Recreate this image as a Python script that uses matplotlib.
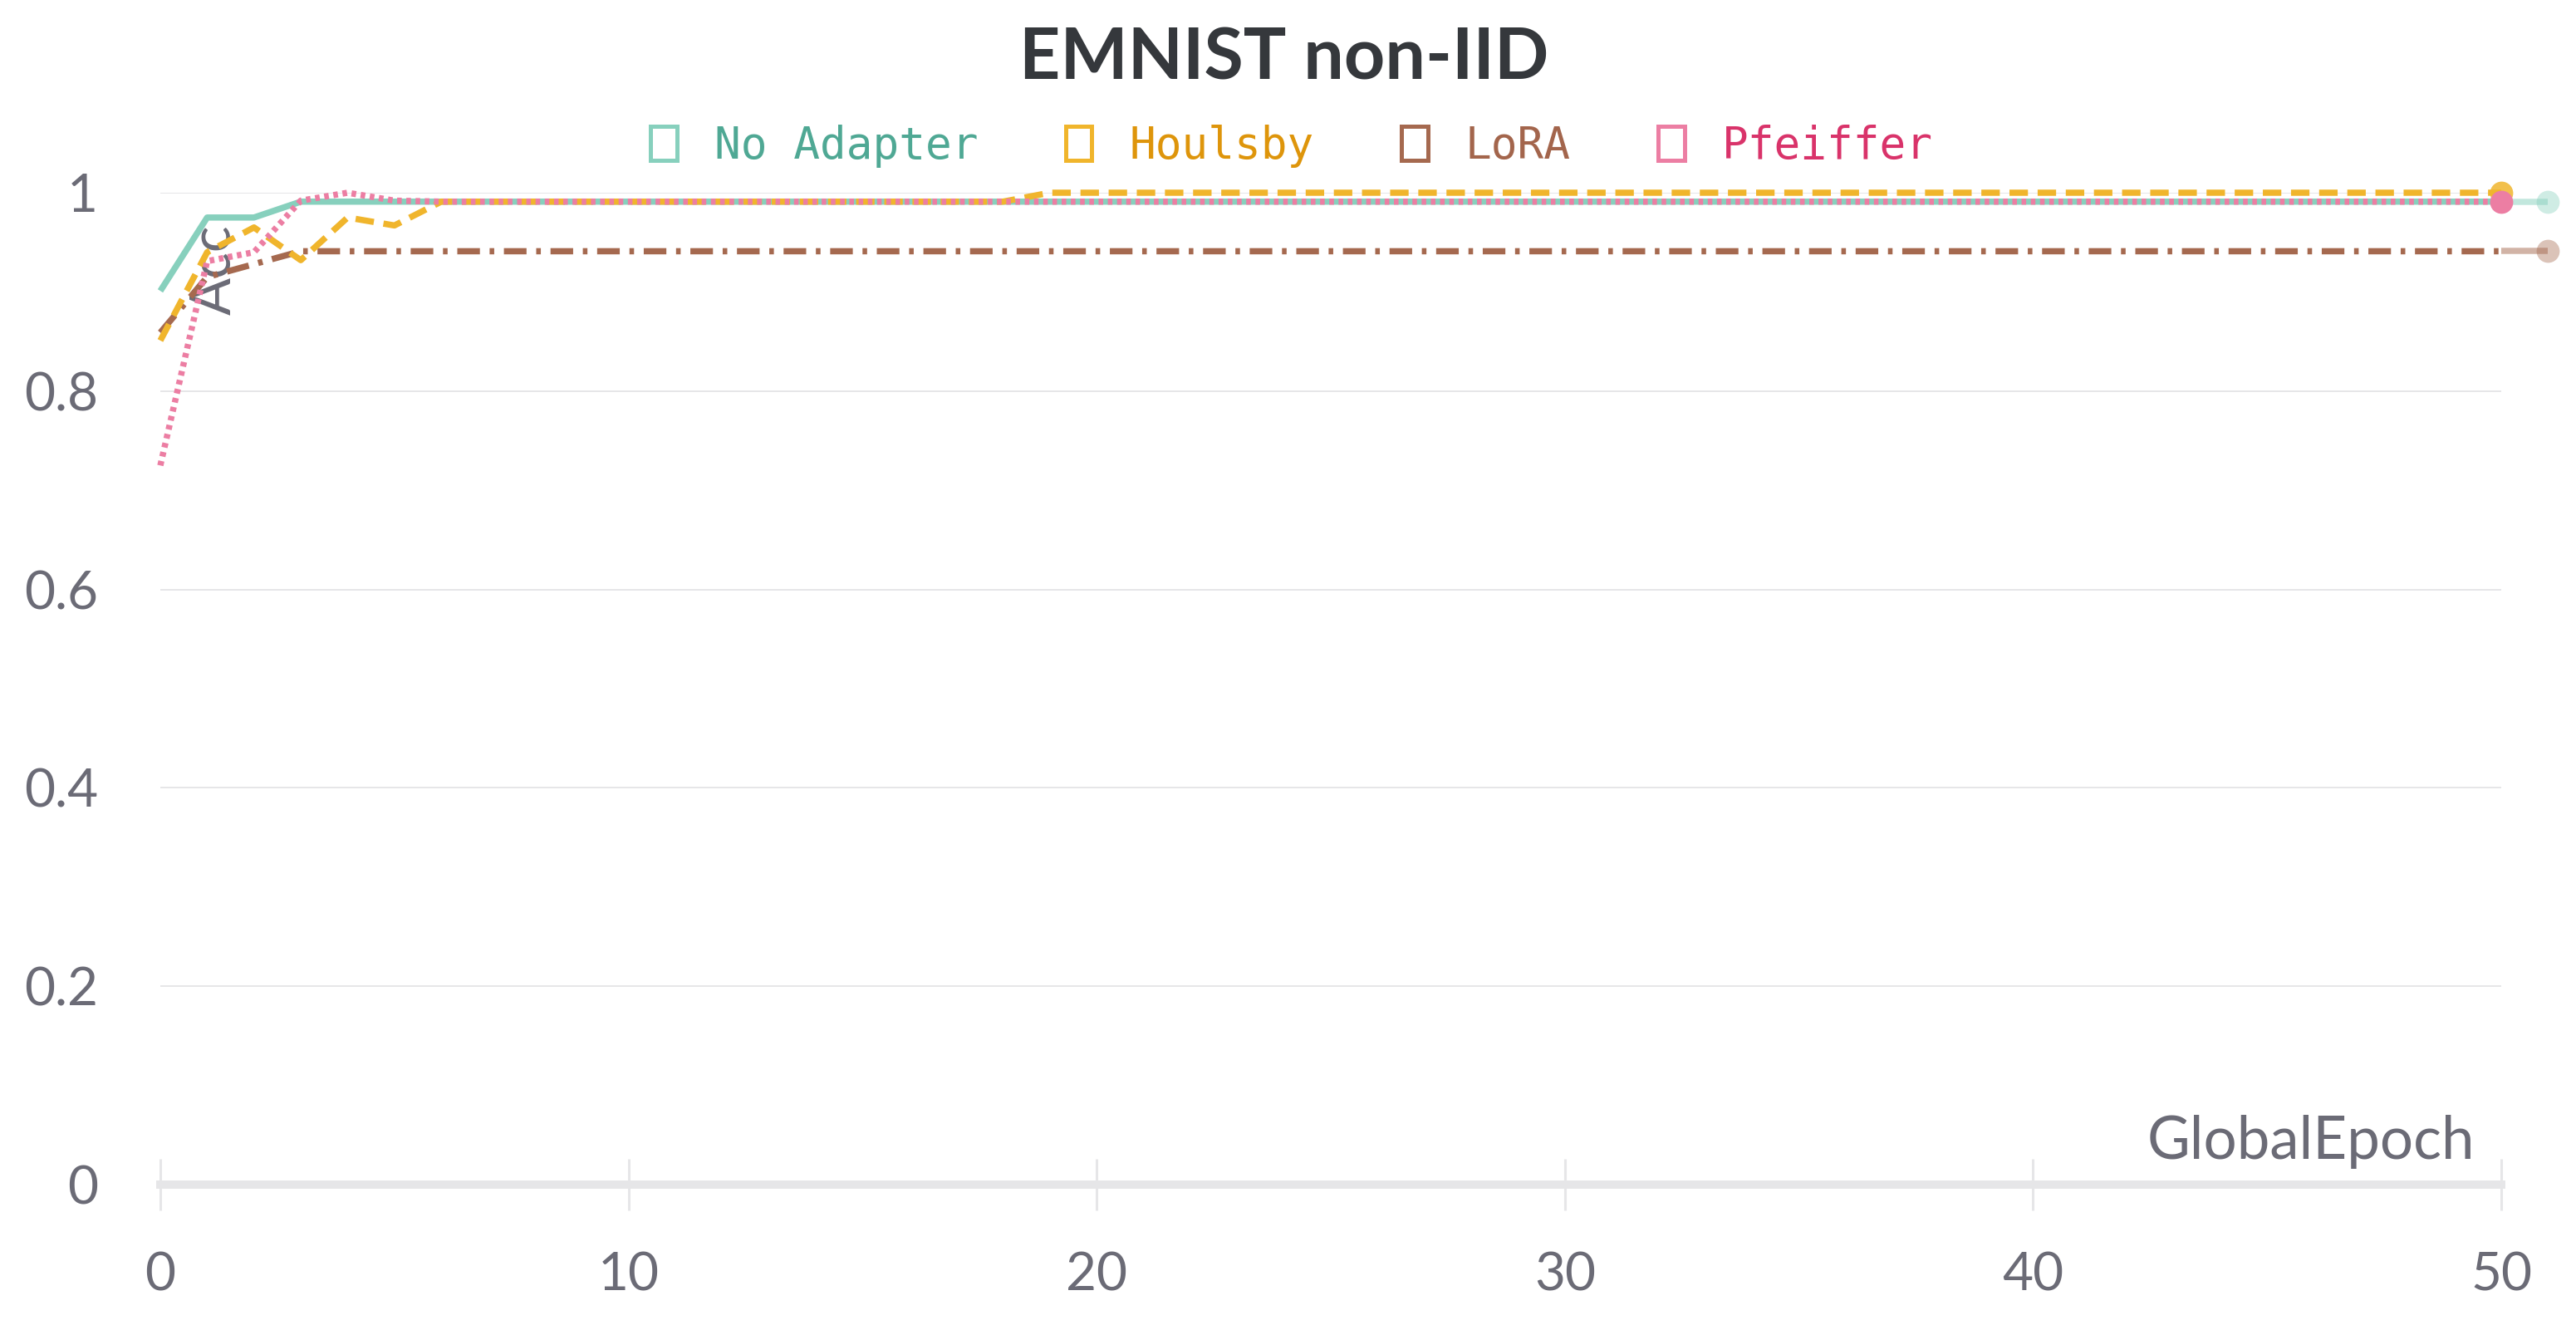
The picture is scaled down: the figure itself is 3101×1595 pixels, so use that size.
import matplotlib
matplotlib.use("Agg")
from matplotlib import pyplot as plt
from matplotlib.patches import Rectangle

# data
epochs = list(range(52))
no_adapter = [0.901, 0.975, 0.975, 0.991, 0.991, 0.991, 0.991, 0.991, 0.991, 0.991,
              0.991, 0.991, 0.991, 0.991, 0.991, 0.991, 0.991, 0.991, 0.991, 0.991,
              0.991, 0.991, 0.991, 0.991, 0.991, 0.991, 0.991, 0.991, 0.991, 0.991,
              0.991, 0.991, 0.991, 0.991, 0.991, 0.991, 0.991, 0.991, 0.991, 0.991,
              0.991, 0.991, 0.991, 0.991, 0.991, 0.991, 0.991, 0.991, 0.991, 0.991,
              0.991, 0.991]
houlsby = [0.851, 0.940, 0.965, 0.932, 0.975, 0.967, 0.991, 0.991, 0.991, 0.991,
           0.991, 0.991, 0.991, 0.991, 0.991, 0.991, 0.991, 0.991, 0.991, 1.000,
           1.000, 1.000, 1.000, 1.000, 1.000, 1.000, 1.000, 1.000, 1.000, 1.000,
           1.000, 1.000, 1.000, 1.000, 1.000, 1.000, 1.000, 1.000, 1.000, 1.000,
           1.000, 1.000, 1.000, 1.000, 1.000, 1.000, 1.000, 1.000, 1.000, 1.000,
           1.000]
lora = [0.859, 0.915, 0.928, 0.941, 0.941, 0.941, 0.941, 0.941, 0.941, 0.941,
        0.941, 0.941, 0.941, 0.941, 0.941, 0.941, 0.941, 0.941, 0.941, 0.941,
        0.941, 0.941, 0.941, 0.941, 0.941, 0.941, 0.941, 0.941, 0.941, 0.941,
        0.941, 0.941, 0.941, 0.941, 0.941, 0.941, 0.941, 0.941, 0.941, 0.941,
        0.941, 0.941, 0.941, 0.941, 0.941, 0.941, 0.941, 0.941, 0.941, 0.941,
        0.941, 0.941]
pfeiffer = [0.725, 0.931, 0.940, 0.992, 1.000, 0.992, 0.991, 0.991, 0.991, 0.991,
            0.991, 0.991, 0.991, 0.991, 0.991, 0.991, 0.991, 0.991, 0.991, 0.991,
            0.991, 0.991, 0.991, 0.991, 0.991, 0.991, 0.991, 0.991, 0.991, 0.991,
            0.991, 0.991, 0.991, 0.991, 0.991, 0.991, 0.991, 0.991, 0.991, 0.991,
            0.991, 0.991, 0.991, 0.991, 0.991, 0.991, 0.991, 0.991, 0.991, 0.991,
            0.991]

names = ['No Adapter', 'Houlsby', 'LoRA', 'Pfeiffer']
series = [no_adapter, houlsby, lora, pfeiffer]
x_ticks = [0, 10, 20, 30, 40, 50]
y_ticks = [0, 0.2, 0.4, 0.6, 0.8, 1.0]
y_tick_labels = ['0', '0.2', '0.4', '0.6', '0.8', '1']

line_colors = ['#87d0bd', '#f0b52c', '#a5694f', '#ec7ea3']
text_colors = ['#4fa894', '#de950b', '#a3654c', '#d9336a']
dashes = [None, (8.0, 4.2), (9.8, 4.2, 2.0, 4.2), (2.0, 2.0)]
zorders = [2, 4, 3, 5]
lw = 2.7

plt.rcParams['font.family'] = ['Lato', 'DejaVu Sans']
plt.rcParams['lines.scale_dashes'] = False

fig = plt.figure(figsize=(15.505, 7.975), dpi=200)
ax = fig.add_axes([0.06224, 0.10596, 0.97098 - 0.06224, 0.85455 - 0.10596])

grey = '#6b6b76'
light = '#e6e6e8'

for name, vals, c, d, z in zip(names, series, line_colors, dashes, zorders):
    xs = epochs[:len(vals)]
    main_x = [x for x in xs if x <= 50]
    main_y = vals[:len(main_x)]
    line, = ax.plot(main_x, main_y, color=c, lw=lw, zorder=z, clip_on=False,
                    solid_capstyle='butt')
    if d is not None:
        line.set_dashes(d)
    if len(vals) > len(main_x):
        # tail beyond the last tick fades out
        ax.plot(xs[len(main_x) - 1:], vals[len(main_x) - 1:], color=c, lw=lw,
                alpha=0.5, zorder=z, clip_on=False, solid_capstyle='butt')
        ax.plot(xs[-1], vals[-1], 'o', color=c, ms=10, mew=0, alpha=0.4,
                zorder=z, clip_on=False)
    else:
        ax.plot(xs[-1], vals[-1], 'o', color=c, ms=10, mew=0,
                alpha=0.85 if name == 'Houlsby' else 1.0, zorder=z, clip_on=False)

ax.set_xlim(0, 50)
ax.set_ylim(0, 1)
ax.set_xticks(x_ticks)
ax.set_yticks(y_ticks)
ax.set_yticklabels(y_tick_labels)

for s in ['top', 'right', 'left']:
    ax.spines[s].set_visible(False)
ax.spines['bottom'].set_color(light)
ax.spines['bottom'].set_linewidth(3.6)
ax.spines['bottom'].set_zorder(1)

ax.yaxis.grid(True, color=light, lw=0.7, zorder=0)
ax.set_axisbelow(True)
ax.tick_params(axis='x', direction='inout', length=22, width=1.1, color=light,
               labelsize=23, labelcolor=grey, pad=18)
ax.tick_params(axis='y', length=0, labelsize=23, labelcolor=grey, pad=27)

ax.set_xlabel('GlobalEpoch', fontsize=25.5, color=grey, ha='right', va='baseline')
ax.xaxis.set_label_coords(0.9886, 0.026)
ax.set_ylabel('Acc', fontsize=24, color=grey, ha='center', va='center', zorder=10)
ax.yaxis.set_label_coords(0.0234, 0.922)

fig.suptitle('EMNIST non-IID', x=0.4985, y=1 - 95 / 1595, va='baseline',
             fontsize=31, fontweight='bold', color='#35383c')

handles = [Rectangle((0, 0), 1, 1, facecolor='none', edgecolor=c, lw=1.8)
           for c in line_colors]
leg = fig.legend(handles, names, loc='center', bbox_to_anchor=(1555 / 3101, 1 - 176 / 1595),
                 ncol=4, frameon=False, prop={'family': 'DejaVu Sans Mono', 'size': 19},
                 handlelength=0.6, handleheight=0.83, handletextpad=0.85,
                 columnspacing=2.0)
for t, c in zip(leg.get_texts(), text_colors):
    t.set_color(c)

fig.savefig('out.png', dpi=200, facecolor='white')
